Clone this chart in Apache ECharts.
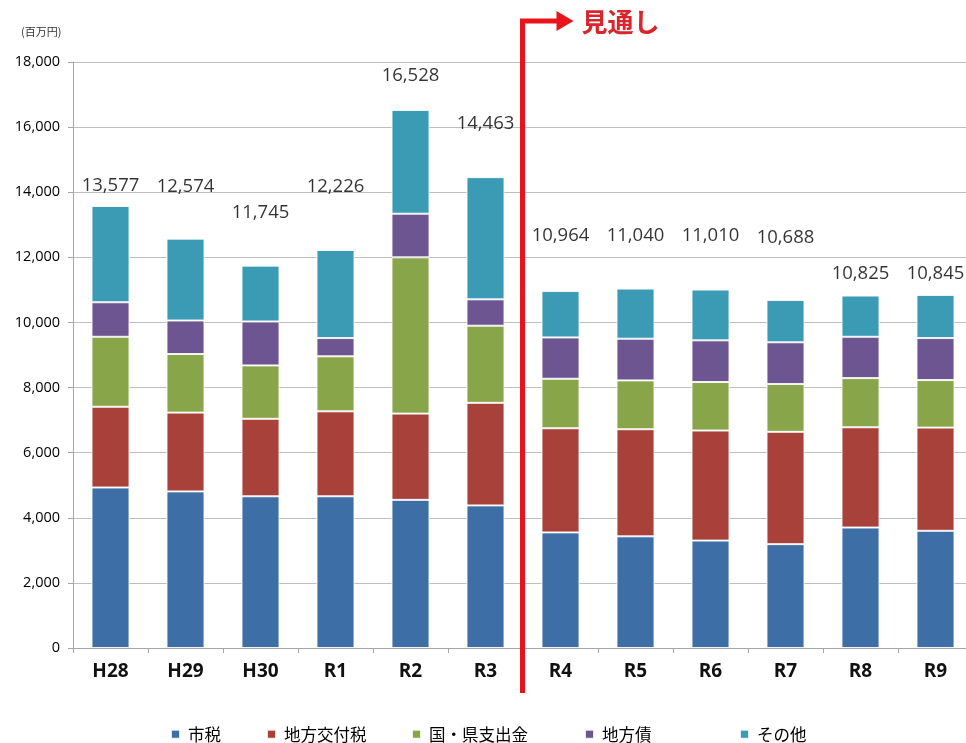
<!DOCTYPE html>
<html lang="ja">
<head>
<meta charset="utf-8">
<title>歳入の推移と見通し</title>
<script src="https://cdn.jsdelivr.net/npm/echarts@6/dist/echarts.min.js"></script>
<style>
  html, body { margin: 0; padding: 0; background: #fff; }
  #chart { width: 966px; height: 743px; }
</style>
</head>
<body>
<div id="chart"></div>
<script>
// 年度
const years = ['H28', 'H29', 'H30', 'R1', 'R2', 'R3', 'R4', 'R5', 'R6', 'R7', 'R8', 'R9'];

// 歳入内訳（百万円）
const shizei      = [4930, 4810, 4660, 4660, 4550, 4380, 3550, 3430, 3300, 3190, 3700, 3600];
const koufuzei    = [2480, 2420, 2380, 2610, 2650, 3150, 3200, 3290, 3380, 3450, 3080, 3170];
const shishutsu   = [2150, 1800, 1640, 1690, 4800, 2370, 1520, 1500, 1490, 1470, 1510, 1460];
const chihousai   = [1060, 1030, 1350,  560, 1340,  810, 1270, 1280, 1280, 1280, 1270, 1290];
const totals      = [13577, 12574, 11745, 12226, 16528, 14463, 10964, 11040, 11010, 10688, 10825, 10845];
// その他 = 合計 − 他の内訳
const sonota = totals.map((t, i) => t - shizei[i] - koufuzei[i] - shishutsu[i] - chihousai[i]);

// 目盛り
const yMin = 0, yMax = 18000, yStep = 2000;

// 合計ラベルの持ち上げ量（px）
const totalLabelLift = [20, 52, 53, 63, 34, 53, 55, 53, 54, 62, 22, 21];

const seriesDefs = [
  { name: '市税',         data: shizei,    color: '#3d6fa6' },
  { name: '地方交付税',   data: koufuzei,  color: '#a8413a' },
  { name: '国・県支出金', data: shishutsu, color: '#89a54a' },
  { name: '地方債',       data: chihousai, color: '#6c5590' },
  { name: 'その他',       data: sonota,    color: '#3c9bb4' }
];

// 凡例の各項目の左端（px）
const legendLefts = [165, 261, 406, 579, 734];

const JP = '"Noto Sans CJK JP", "Noto Sans", sans-serif';
const NUM = '"Open Sans", "Noto Sans", sans-serif';
const chart = echarts.init(document.getElementById('chart'), null, { renderer: 'canvas' });

const barSeries = seriesDefs.map(s => ({
  name: s.name,
  type: 'bar',
  stack: 'total',
  barWidth: 38,
  data: s.data,
  itemStyle: { color: s.color, borderColor: 'rgba(255,255,255,0.85)', borderWidth: 1 },
  emphasis: { disabled: true }
}));

const totalSeries = {
  name: '合計',
  type: 'scatter',
  symbolSize: 0,
  silent: true,
  data: totals.map((t, i) => ({
    value: t,
    label: { offset: [0, -totalLabelLift[i]] }
  })),
  label: {
    show: true,
    position: 'inside',
    fontFamily: NUM,
    fontSize: 18.5,
    color: '#000',
    formatter: p => p.value.toLocaleString('en-US')
  },
  z: 10
};

const legends = seriesDefs.map((s, i) => ({
  data: [s.name],
  left: legendLefts[i],
  top: 721,
  icon: 'rect',
  itemWidth: 9,
  itemHeight: 9,
  textStyle: { fontFamily: JP, fontSize: 16.5, color: '#000', padding: [0, 0, 0, 3] },
  selectedMode: false
}));

chart.setOption({
  animation: false,
  backgroundColor: '#fff',
  textStyle: { fontFamily: JP },
  grid: { left: 73, top: 62, width: 900, height: 586, outerBoundsMode: 'none', containLabel: false },
  legend: legends,
  xAxis: {
    type: 'category',
    data: years,
    axisLine: { lineStyle: { color: '#a6a6a6', width: 1 } },
    axisTick: { show: true, length: 5, lineStyle: { color: '#a6a6a6' } },
    axisLabel: { fontFamily: NUM, fontSize: 19, fontWeight: 'bold', color: '#111', margin: 14 }
  },
  yAxis: {
    type: 'value',
    min: yMin,
    max: yMax,
    interval: yStep,
    axisLine: { show: true, lineStyle: { color: '#a6a6a6', width: 1 } },
    axisTick: { show: true, length: 5, lineStyle: { color: '#a6a6a6' } },
    splitLine: { lineStyle: { color: '#bfbfbf', width: 1 } },
    axisLabel: {
      fontFamily: NUM, fontSize: 14.5, color: '#000', margin: 13,
      formatter: v => v.toLocaleString('en-US')
    }
  },
  series: [...barSeries, totalSeries]
});

// 実績と見通しの境界（R3 と R4 の間）に赤い矢印線を描く
const xR3 = chart.convertToPixel({ xAxisIndex: 0 }, 'R3');
const xR4 = chart.convertToPixel({ xAxisIndex: 0 }, 'R4');
const xb = (xR3 + xR4) / 2 - 0.5;
const red = '#e8141c';
chart.setOption({
  graphic: [
    {
      type: 'text',
      left: 21, top: 26,
      style: { text: '(百万円)', font: '11px ' + JP, fill: '#333' }
    },
    {
      type: 'polyline',
      shape: { points: [[xb, 693], [xb, 21], [xb + 38, 21]] },
      style: { stroke: red, lineWidth: 5, fill: null, lineJoin: 'miter' },
      z: 20
    },
    {
      type: 'polygon',
      shape: { points: [[xb + 34, 11], [xb + 51, 21], [xb + 34, 31]] },
      style: { fill: red },
      z: 20
    },
    {
      type: 'text',
      x: xb + 59, y: 22,
      style: {
        text: '見通し', font: 'bold 26px ' + JP, fill: '#d9252b',
        verticalAlign: 'middle'
      },
      z: 20
    }
  ]
});
</script>
</body>
</html>
